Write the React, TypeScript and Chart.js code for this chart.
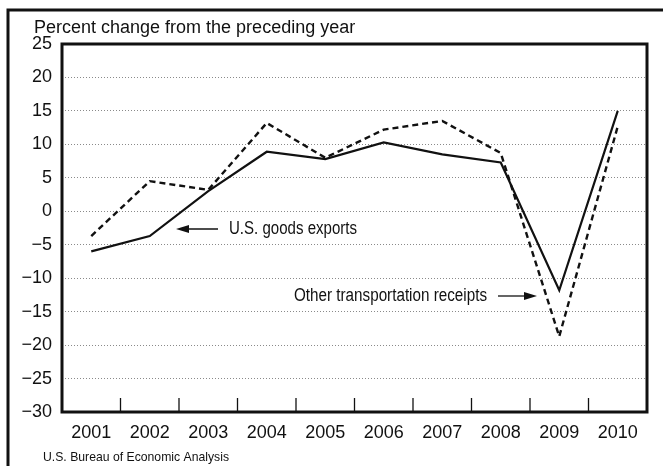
import React, { useEffect, useRef } from "react";
import { Chart, registerables } from "chart.js";

Chart.register(...registerables);

const years = ["2001", "2002", "2003", "2004", "2005", "2006", "2007", "2008", "2009", "2010"];
const goodsExports = [-6.0, -3.7, 3.0, 8.9, 7.8, 10.3, 8.5, 7.3, -11.8, 15.0];
const otherTransport = [-3.7, 4.5, 3.2, 13.2, 8.0, 12.2, 13.5, 8.7, -18.7, 12.7];
const yMin = -30;
const yMax = 25;
const yStep = 5;
const titleText = "Percent change from the preceding year";
const sourceText = "U.S. Bureau of Economic Analysis";
const goodsLabel = "U.S. goods exports";
const otherLabel = "Other transportation receipts";

const FONT = "'Liberation Sans', Arial, Helvetica, sans-serif";

function drawFitText(ctx: CanvasRenderingContext2D, text: string, x: number, y: number, size: number, width: number) {
  ctx.save();
  ctx.font = `${size}px ${FONT}`;
  const w = ctx.measureText(text).width;
  const s = width / w;
  ctx.translate(x, y);
  ctx.scale(s, 1);
  ctx.fillStyle = "#111";
  ctx.textBaseline = "middle";
  ctx.textAlign = "left";
  ctx.fillText(text, 0, 0);
  ctx.restore();
}

function arrow(ctx: CanvasRenderingContext2D, x1: number, y: number, x2: number) {
  ctx.save();
  ctx.strokeStyle = "#111";
  ctx.fillStyle = "#111";
  ctx.lineWidth = 1.3;
  const dir = x2 > x1 ? 1 : -1;
  ctx.beginPath();
  ctx.moveTo(x1, y);
  ctx.lineTo(x2 - dir * 8, y);
  ctx.stroke();
  ctx.beginPath();
  ctx.moveTo(x2, y);
  ctx.lineTo(x2 - dir * 13, y - 4);
  ctx.lineTo(x2 - dir * 13, y + 4);
  ctx.closePath();
  ctx.fill();
  ctx.restore();
}

const decorPlugin = {
  id: "decor",
  afterDraw(chart: any) {
    const ctx = chart.ctx as CanvasRenderingContext2D;
    const { left, right, top, bottom } = chart.chartArea;
    const xs = chart.scales.x;
    ctx.save();
    ctx.strokeStyle = "#111";
    ctx.lineWidth = 3;
    ctx.beginPath();
    ctx.moveTo(663 + 5, 10);
    ctx.lineTo(8, 10);
    ctx.lineTo(8, 470);
    ctx.stroke();
    ctx.lineWidth = 3;
    ctx.strokeRect(left, top, right - left, bottom - top);
    ctx.lineWidth = 1.3;
    for (let i = 1; i < years.length; i++) {
      const x = (xs.getPixelForValue(i - 1) + xs.getPixelForValue(i)) / 2;
      ctx.beginPath();
      ctx.moveTo(x, bottom);
      ctx.lineTo(x, bottom - 14);
      ctx.stroke();
    }
    ctx.restore();
    ctx.save();
    ctx.font = `18px ${FONT}`;
    ctx.fillStyle = "#111";
    ctx.textBaseline = "alphabetic";
    ctx.fillText(titleText, 34, 33);
    ctx.restore();
    drawFitText(ctx, sourceText, 43, 457, 13, 186);
    drawFitText(ctx, goodsLabel, 229, 229, 18, 128);
    drawFitText(ctx, otherLabel, 294, 296, 18, 193);
    arrow(ctx, 218, 229, 176);
    arrow(ctx, 498, 296, 537);
  },
};

export default function App() {
  const ref = useRef<HTMLCanvasElement>(null);
  useEffect(() => {
    const chart = new Chart(ref.current!, {
      type: "line",
      data: {
        labels: years,
        datasets: [
          {
            label: "U.S. goods exports",
            data: goodsExports,
            borderColor: "#111",
            borderWidth: 2.2,
            pointRadius: 0,
            tension: 0,
            fill: false,
          },
          {
            label: "Other transportation receipts",
            data: otherTransport,
            borderColor: "#111",
            borderWidth: 2.4,
            borderDash: [6, 4],
            pointRadius: 0,
            tension: 0,
            fill: false,
          },
        ],
      },
      options: {
        responsive: false,
        animation: false,
        layout: { padding: { left: 0, top: 44, right: 16, bottom: 0 } },
        plugins: { legend: { display: false }, tooltip: { enabled: false }, title: { display: false } },
        scales: {
          x: {
            type: "category",
            offset: true,
            grid: { display: false, drawTicks: false },
            border: { display: false },
            ticks: { color: "#111", font: { family: FONT, size: 18 }, padding: 10, maxRotation: 0, autoSkip: false },
            afterFit: (s: any) => { s.height = 54; },
          },
          y: {
            min: yMin,
            max: yMax,
            grid: {
              drawTicks: false,
              color: (c: any) => (c.tick && (c.tick.value === yMin || c.tick.value === yMax) ? "rgba(0,0,0,0)" : "#8a8a8a"),
              lineWidth: 1,
            },
            border: { display: false, dash: [1, 2] },
            ticks: {
              stepSize: yStep,
              color: "#111",
              font: { family: FONT, size: 18 },
              padding: 10,
              callback: (v: any) => (Number(v) < 0 ? "\u2212" + Math.abs(Number(v)) : String(v)),
            },
            afterFit: (s: any) => { s.width = 62; },
          },
        },
      },
      plugins: [decorPlugin],
    });
    return () => chart.destroy();
  }, []);
  return (
    <div style={{ position: "fixed", left: 0, top: 0, width: 663, height: 466, background: "#fff" }}>
      <canvas ref={ref} width={663} height={466} />
    </div>
  );
}
